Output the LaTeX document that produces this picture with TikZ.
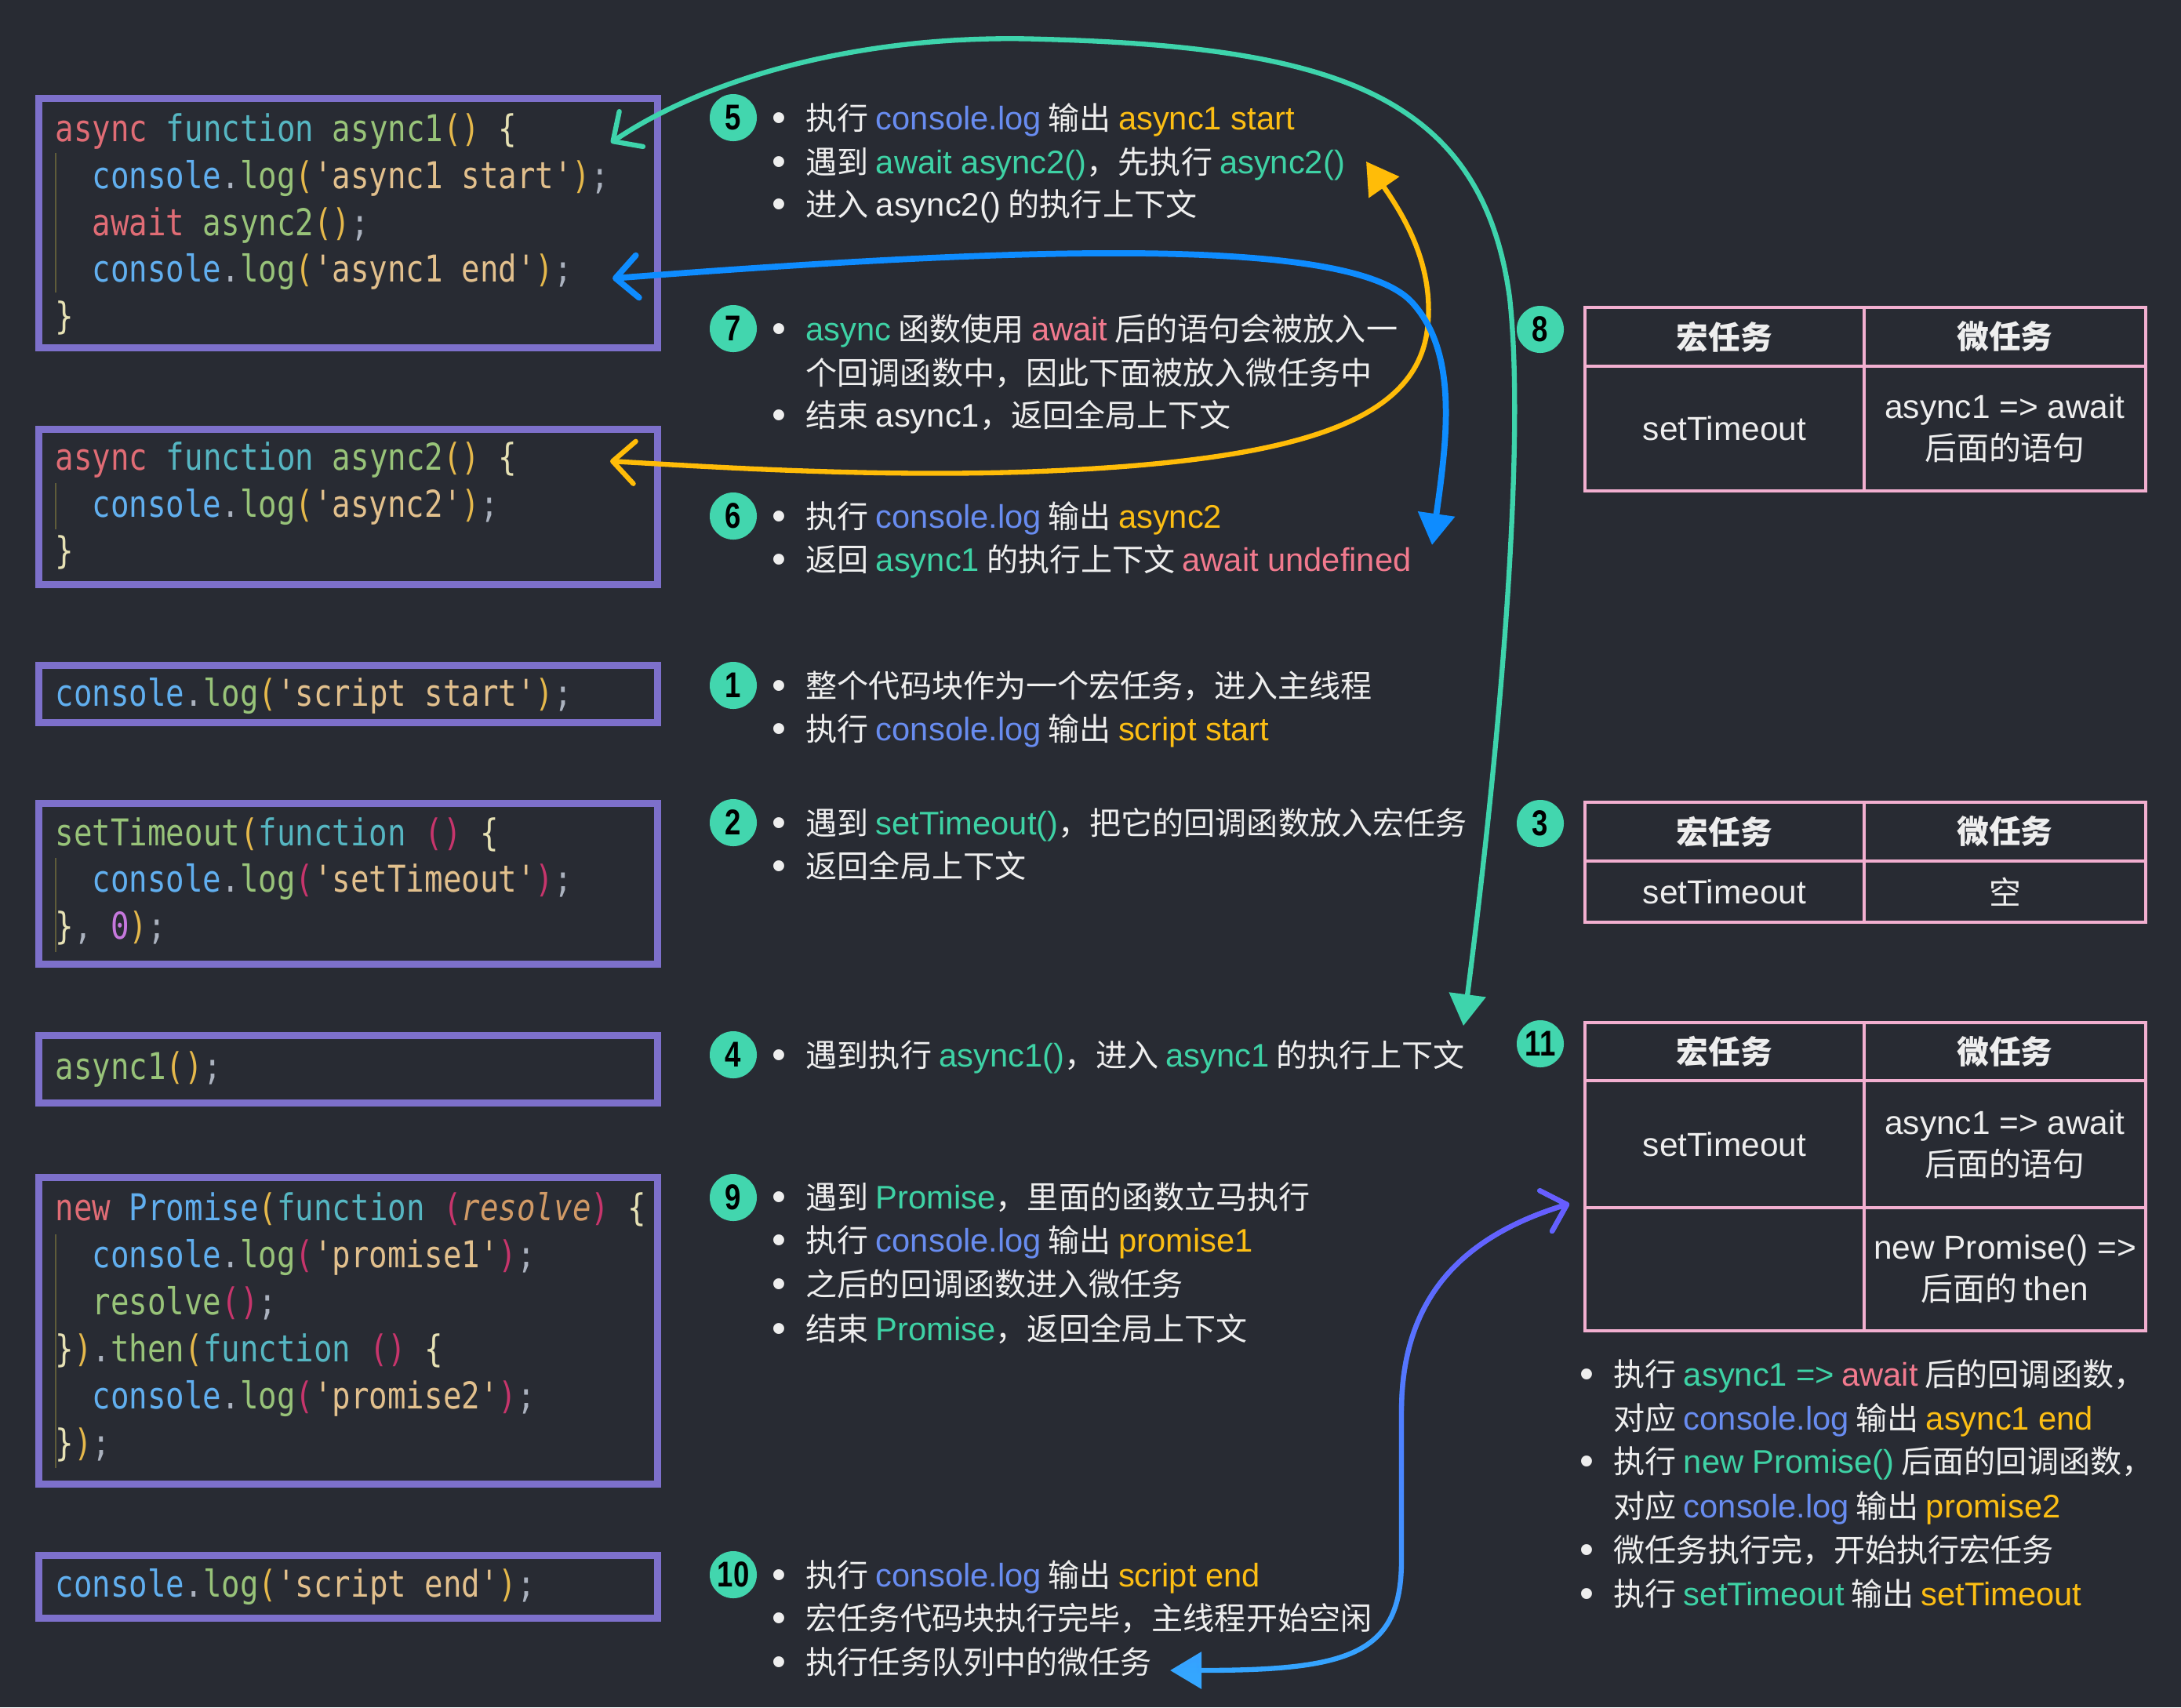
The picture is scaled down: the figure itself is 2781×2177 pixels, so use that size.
\documentclass[tikz,border=0pt]{standalone}
\usepackage{fontspec}
\setmainfont{Noto Sans CJK SC}
\newfontfamily\lat[Scale=1.04]{Liberation Sans}
\newfontfamily\numfont[FakeStretch=0.8]{Liberation Sans}
\setmonofont[FakeStretch=0.83]{DejaVu Sans Mono}
\usetikzlibrary{arrows.meta, fadings}

\definecolor{bg}{RGB}{40,43,51}
\definecolor{boxline}{RGB}{125,112,203}
\definecolor{tabline}{RGB}{242,175,208}
\definecolor{badgefill}{RGB}{66,214,174}
\definecolor{txtwhite}{RGB}{238,238,238}
\definecolor{logblue}{RGB}{104,140,240}
\definecolor{outyel}{RGB}{252,190,20}
\definecolor{kwgreen}{RGB}{62,210,165}
\definecolor{kwpink}{RGB}{242,122,142}
\definecolor{tealline}{RGB}{62,212,172}
\definecolor{yelline}{RGB}{255,188,8}
\definecolor{blueline}{RGB}{14,140,255}
\definecolor{violetline}{RGB}{104,92,255}
\definecolor{skyline}{RGB}{52,166,255}
% code colours
\definecolor{codekw}{RGB}{224,108,117}
\definecolor{codefn}{RGB}{86,182,194}
\definecolor{codename}{RGB}{152,195,121}
\definecolor{codeobj}{RGB}{97,175,239}
\definecolor{codestr}{RGB}{226,192,141}
\definecolor{codepar}{RGB}{229,184,75}
\definecolor{codepartwo}{RGB}{199,53,108}
\definecolor{codebrace}{RGB}{230,225,180}
\definecolor{codepunct}{RGB}{171,178,191}
\definecolor{codenum}{RGB}{198,120,221}
\definecolor{codeparam}{RGB}{209,154,102}
\definecolor{codeguide}{RGB}{95,92,58}

\newcommand\ckw[1]{\textcolor{codekw}{#1}}
\newcommand\cfn[1]{\textcolor{codefn}{#1}}
\newcommand\cnm[1]{\textcolor{codename}{#1}}
\newcommand\cob[1]{\textcolor{codeobj}{#1}}
\newcommand\cst[1]{\textcolor{codestr}{#1}}
\newcommand\cpa[1]{\textcolor{codepar}{#1}}
\newcommand\cpb[1]{\textcolor{codepartwo}{#1}}
\newcommand\cbr[1]{\textcolor{codebrace}{#1}}
\newcommand\cpu[1]{\textcolor{codepunct}{#1}}
\newcommand\cnu[1]{\textcolor{codenum}{#1}}
\newcommand\cpr[1]{\textcolor{codeparam}{\itshape #1}}
\newcommand\clog{\cob{console}\cpu{.}\cnm{log}}

\newcommand\en[1]{{\lat #1}}
\newcommand\hlb[1]{\textcolor{logblue}{\lat #1}}
\newcommand\hly[1]{\textcolor{outyel}{\lat #1}}
\newcommand\hlg[1]{\textcolor{kwgreen}{\lat #1}}
\newcommand\hlp[1]{\textcolor{kwpink}{\lat #1}}
\newcommand\bul{\makebox[11.4pt][l]{\lat\fontsize{14pt}{14pt}\selectfont\hspace{-1pt}\raisebox{-0.6pt}{\textbullet}}}

\tikzfading[name=fadeup, bottom color=transparent!100, top color=transparent!0]

\begin{document}
\begin{tikzpicture}[x=0.01cm, y=-0.01cm,
    codebox/.style={draw=boxline, line width=2.56pt, inner sep=0, minimum width=7.89cm},
    code/.style={anchor=base west, inner sep=0, font=\ttfamily\fontsize{13.4pt}{17pt}\selectfont},
    guide/.style={draw=codeguide, line width=0.5pt},
    txt/.style={anchor=base west, inner sep=0, text=txtwhite, font=\fontsize{11.4pt}{15.9pt}\selectfont},
    badge/.style={circle, fill=badgefill, minimum size=0.6cm, inner sep=0, text=black,
        font=\numfont\bfseries\fontsize{13pt}{13pt}\selectfont},
    cell/.style={draw=tabline, line width=1.14pt, inner sep=0, align=center, text=txtwhite,
        font=\fontsize{11.6pt}{15pt}\selectfont},
    head/.style={cell, font=\bfseries\fontsize{11.6pt}{15pt}\selectfont},
    flow/.style={line width=1.8pt, line cap=round,
        arrows={Triangle[length=0.4cm,width=0.46cm]-Straight Barb[round,length=0.28cm,width=0.54cm]}}]

\fill[bg] (0,0) rectangle (2781,2177);

% code boxes
\node[codebox, minimum height=3.18cm] (a1box) at (444,284.5) {};
\node[codebox, minimum height=1.98cm] (a2box) at (444,646.5) {};
\node[codebox, minimum height=0.73cm] (startbox) at (444,885) {};
\node[codebox, minimum height=2.05cm] (timebox) at (444,1127) {};
\node[codebox, minimum height=0.86cm] (callbox) at (444,1363.5) {};
\node[codebox, minimum height=3.91cm] (promisebox) at (444,1697) {};
\node[codebox, minimum height=0.80cm] (endbox) at (444,2023.5) {};

\draw[guide] (71,195) -- (71,373);
\draw[guide] (71,616) -- (71,675);
\draw[guide] (71,1094) -- (71,1214);
\draw[guide] (71,1574) -- (71,1872);

\node[code] (a1l1) at (70,180) {\ckw{async} \cfn{function} \cnm{async1}\cpa{()} \cbr{\{}};
\node[code] (a1l2) at (117,240) {\clog\cpa{(}\cst{'async1 start'}\cpa{)}\cpu{;}};
\node[code] (a1l3) at (117,300) {\ckw{await} \cnm{async2}\cpa{()}\cpu{;}};
\node[code] (a1l4) at (117,359) {\clog\cpa{(}\cst{'async1 end'}\cpa{)}\cpu{;}};
\node[code] (a1l5) at (70,419) {\cbr{\}}};

\node[code] (a2l1) at (70,599) {\ckw{async} \cfn{function} \cnm{async2}\cpa{()} \cbr{\{}};
\node[code] (a2l2) at (117,659) {\clog\cpa{(}\cst{'async2'}\cpa{)}\cpu{;}};
\node[code] (a2l3) at (70,718) {\cbr{\}}};

\node[code] (startl1) at (70,900) {\clog\cpa{(}\cst{'script start'}\cpa{)}\cpu{;}};

\node[code] (timel1) at (70,1078) {\cnm{setTimeout}\cpa{(}\cfn{function} \cpb{()} \cbr{\{}};
\node[code] (timel2) at (117,1137) {\clog\cpb{(}\cst{'setTimeout'}\cpb{)}\cpu{;}};
\node[code] (timel3) at (70,1197) {\cbr{\}}\cpu{,} \cnu{0}\cpa{)}\cpu{;}};

\node[code] (calll1) at (70,1376) {\cnm{async1}\cpa{()}\cpu{;}};

\node[code] (prol1) at (70,1556) {\ckw{new} \cob{Promise}\cpa{(}\cfn{function} \cpb{(}\cpr{resolve}\cpb{)} \cbr{\{}};
\node[code] (prol2) at (117,1616) {\clog\cpb{(}\cst{'promise1'}\cpb{)}\cpu{;}};
\node[code] (prol3) at (117,1676) {\cnm{resolve}\cpb{()}\cpu{;}};
\node[code] (prol4) at (70,1736) {\cbr{\}}\cpa{)}\cpu{.}\cnm{then}\cpa{(}\cfn{function} \cpb{()} \cbr{\{}};
\node[code] (prol5) at (117,1796) {\clog\cpb{(}\cst{'promise2'}\cpb{)}\cpu{;}};
\node[code] (prol6) at (70,1856) {\cbr{\}}\cpa{)}\cpu{;}};

\node[code] (endl1) at (70,2036) {\clog\cpa{(}\cst{'script end'}\cpa{)}\cpu{;}};

% steps
\node[badge] (n5) at (935,150) {5};
\node[txt] (t5a) at (987,165) {\bul 执行 \hlb{console.log} 输出 \hly{async1 start}};
\node[txt] (t5b) at (987,221) {\bul 遇到 \hlg{await async2()}，先执行 \hlg{async2()}};
\node[txt] (t5c) at (987,275) {\bul 进入 \en{async2()} 的执行上下文};

\node[badge] (n7) at (935,419) {7};
\node[txt] (t7a) at (987,434) {\bul \hlg{async} 函数使用 \hlp{await} 后的语句会被放入一};
\node[txt] (t7b) at (1027,490) {个回调函数中，因此下面被放入微任务中};
\node[txt] (t7c) at (987,544) {\bul 结束 \en{async1}，返回全局上下文};

\node[badge] (n6) at (935,658) {6};
\node[txt] (t6a) at (987,673) {\bul 执行 \hlb{console.log} 输出 \hly{async2}};
\node[txt] (t6b) at (987,728) {\bul 返回 \hlg{async1} 的执行上下文 \hlp{await undefined}};

\node[badge] (n1) at (935,874) {1};
\node[txt] (t1a) at (987,889) {\bul 整个代码块作为一个宏任务，进入主线程};
\node[txt] (t1b) at (987,944) {\bul 执行 \hlb{console.log} 输出 \hly{script start}};

\node[badge] (n2) at (935,1049) {2};
\node[txt] (t2a) at (987,1064) {\bul 遇到 \hlg{setTimeout()}，把它的回调函数放入宏任务};
\node[txt] (t2b) at (987,1119) {\bul 返回全局上下文};

\node[badge] (n4) at (935,1345) {4};
\node[txt] (t4a) at (987,1360) {\bul 遇到执行 \hlg{async1()}，进入 \hlg{async1} 的执行上下文};

\node[badge] (n9) at (935,1527) {9};
\node[txt] (t9a) at (987,1541) {\bul 遇到 \hlg{Promise}，里面的函数立马执行};
\node[txt] (t9b) at (987,1596) {\bul 执行 \hlb{console.log} 输出 \hly{promise1}};
\node[txt] (t9c) at (987,1652) {\bul 之后的回调函数进入微任务};
\node[txt] (t9d) at (987,1709) {\bul 结束 \hlg{Promise}，返回全局上下文};

\node[badge] (n10) at (935,2008) {10};
\node[txt] (t10a) at (987,2023) {\bul 执行 \hlb{console.log} 输出 \hly{script end}};
\node[txt] (t10b) at (987,2078) {\bul 宏任务代码块执行完毕，主线程开始空闲};
\node[txt] (t10c) at (987,2134) {\bul 执行任务队列中的微任务};

% queues
\node[badge] (n8) at (1964,420) {8};
\node[head, minimum width=3.56cm, minimum height=0.75cm] (m8h) at (2199,429.5) {宏任务};
\node[head, minimum width=3.59cm, minimum height=0.75cm] (u8h) at (2556.5,429.5) {微任务};
\node[cell, minimum width=3.56cm, minimum height=1.59cm] (m8) at (2199,546.5) {\en{setTimeout}};
\node[cell, minimum width=3.59cm, minimum height=1.59cm] (u8) at (2556.5,546.5) {\en{async1 => await}\\后面的语句};

\node[badge] (n3) at (1964,1050) {3};
\node[head, minimum width=3.56cm, minimum height=0.75cm] (m3h) at (2199,1060.5) {宏任务};
\node[head, minimum width=3.59cm, minimum height=0.75cm] (u3h) at (2556.5,1060.5) {微任务};
\node[cell, minimum width=3.56cm, minimum height=0.78cm] (m3) at (2199,1137) {\en{setTimeout}};
\node[cell, minimum width=3.59cm, minimum height=0.78cm] (u3) at (2556.5,1137) {空};

\node[badge] (n11) at (1964,1331) {11};
\node[head, minimum width=3.56cm, minimum height=0.74cm] (m11h) at (2199,1341) {宏任务};
\node[head, minimum width=3.59cm, minimum height=0.74cm] (u11h) at (2556.5,1341) {微任务};
\node[cell, minimum width=3.56cm, minimum height=1.62cm] (m11) at (2199,1459) {\en{setTimeout}};
\node[cell, minimum width=3.59cm, minimum height=1.62cm] (u11) at (2556.5,1459) {\en{async1 => await}\\后面的语句};
\node[cell, minimum width=3.56cm, minimum height=1.57cm] (m11b) at (2199,1618.5) {};
\node[cell, minimum width=3.59cm, minimum height=1.57cm] (u11b) at (2556.5,1618.5) {\en{new Promise() =>}\\后面的 \en{then}};

\node[txt] (r1) at (2017,1767) {\bul 执行 \hlg{async1 =>} \hlp{await} 后的回调函数，};
\node[txt] (r2) at (2057,1823) {对应 \hlb{console.log} 输出 \hly{async1 end}};
\node[txt] (r3) at (2017,1878) {\bul 执行 \hlg{new Promise()} 后面的回调函数，};
\node[txt] (r4) at (2057,1935) {对应 \hlb{console.log} 输出 \hly{promise2}};
\node[txt] (r5) at (2017,1991) {\bul 微任务执行完，开始执行宏任务};
\node[txt] (r6) at (2017,2047) {\bul 执行 \hlg{setTimeout} 输出 \hly{setTimeout}};

% arrows
\coordinate (tealtail) at (1866,1308);
\coordinate (tealhead) at (779,182);
\coordinate (yeltail) at (1742,206);
\coordinate (yelhead) at (778,588);
\coordinate (bluetail) at (1826,695);
\coordinate (bluehead) at (781,355);
\coordinate (vtail) at (1492,2130);
\coordinate (vhead) at (2001,1535);

\draw[flow, tealline] (tealtail) .. controls (1915,930) and (1945,560) .. (1925,380)
    .. controls (1890,120) and (1700,60) .. (1330,50)
    .. controls (1100,42) and (900,100) .. (tealhead);
\draw[flow, yelline] (yeltail) .. controls (1790,275) and (1830,340) .. (1820,420)
    .. controls (1805,540) and (1650,590) .. (1300,602)
    .. controls (1100,608) and (900,595) .. (yelhead);
\draw[flow, blueline, line width=2.2pt] (bluetail) .. controls (1845,560) and (1860,450) .. (1800,385)
    .. controls (1720,300) and (1300,315) .. (bluehead);
\draw[flow, skyline] (vtail) .. controls (1720,2130) and (1787,2110) .. (1787,1990) -- (1787,1800)
    .. controls (1787,1650) and (1870,1575) .. (vhead);
\draw[flow, violetline, path fading=fadeup] (vtail) .. controls (1720,2130) and (1787,2110) .. (1787,1990) -- (1787,1800)
    .. controls (1787,1650) and (1870,1575) .. (vhead);
\end{tikzpicture}
\end{document}
